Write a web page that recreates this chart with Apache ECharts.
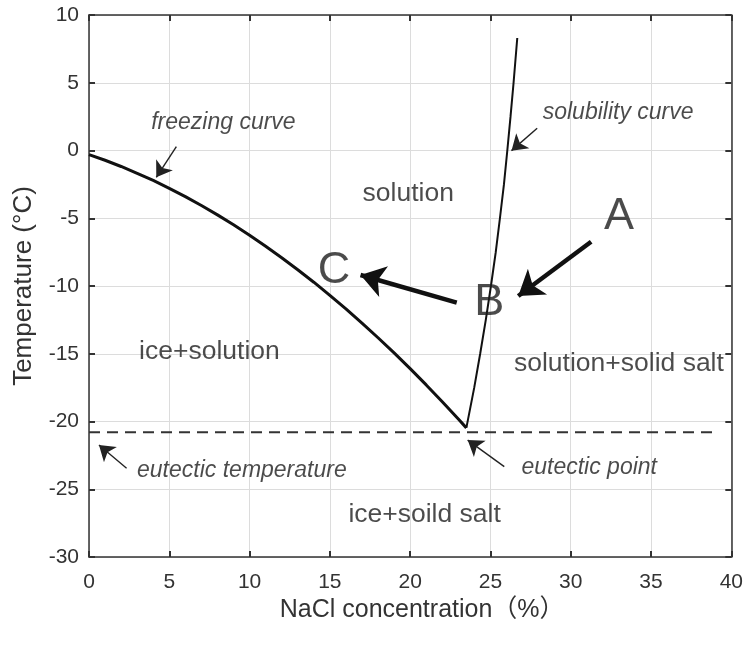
<!DOCTYPE html>
<html>
<head>
<meta charset="utf-8">
<script src="https://cdn.jsdelivr.net/npm/echarts@6/dist/echarts.min.js"></script>
<style>
  html, body { margin: 0; padding: 0; background: #fff; }
  #chart { width: 746px; height: 645px; }
</style>
</head>
<body>
<div id="chart"></div>
<script>
// NaCl–water phase diagram

// Axis ticks
const xTicks = [0, 5, 10, 15, 20, 25, 30, 35, 40];
const yTicks = [-30, -25, -20, -15, -10, -5, 0, 5, 10];

// Freezing curve (ice liquidus): concentration % and temperature °C
const freezingX = [0, 1, 2, 3, 4, 5, 6, 7, 8, 9, 10, 11, 12, 13, 14, 15, 16, 17, 18, 19, 20, 21, 22, 23, 23.5];
const freezingT = [-0.30, -0.72, -1.18, -1.68, -2.21, -2.79, -3.40, -4.06, -4.75, -5.48, -6.25, -7.06, -7.91,
                   -8.80, -9.72, -10.69, -11.69, -12.74, -13.82, -14.94, -16.10, -17.30, -18.54, -19.82, -20.47];

// Solubility curve (salt liquidus)
const solubilityX = [23.5, 23.99, 24.36, 24.71, 25.03, 25.33, 25.59, 25.84, 26.05, 26.25, 26.44, 26.67];
const solubilityT = [-20.47, -17.5, -15, -12.5, -10, -7.5, -5, -2.5, 0, 2.5, 5, 8.3];

// Eutectic temperature line
const eutecticX = [0, 39.2];
const eutecticT = [-20.8, -20.8];

// Thin pointer arrows: [fromX, fromT, toX, toT]
const thinArrows = [
  [5.44, 0.28, 4.19, -1.98],      // freezing curve
  [27.91, 1.64, 26.31, -0.01],    // solubility curve
  [2.34, -23.45, 0.62, -21.73],   // eutectic temperature
  [25.86, -23.33, 23.58, -21.37]  // eutectic point
];

// Thick process arrows A -> B -> C
const thickArrows = [
  [31.27, -6.73, 26.73, -10.74],
  [22.9, -11.23, 16.91, -9.19]
];

// Annotation texts and their anchor points (x %, T °C)
const noteText = ['freezing curve', 'solubility curve', 'eutectic temperature', 'eutectic point'];
const noteX = [8.37, 32.95, 9.52, 31.15];
const noteT = [2.03, 2.77, -23.65, -23.41];

const regionText = ['solution', 'ice+solution', 'solution+solid salt', 'ice+soild salt'];
const regionX = [19.88, 7.5, 33.0, 20.9];
const regionT = [-3.16, -14.87, -15.7, -26.9];

const pointText = ['A', 'B', 'C'];
const pointX = [33.0, 24.93, 15.26];
const pointT = [-4.89, -11.22, -8.89];

const FONT = '"Liberation Sans", Arial, "Noto Sans CJK SC", sans-serif';
const AXIS_COLOR = '#333';

function zip(xs, ys) { return xs.map((x, i) => [x, ys[i]]); }
function textPoints(names, xs, ys) {
  return names.map((n, i) => ({ name: n, value: [xs[i], ys[i]] }));
}
function arrowData(list) {
  return list.map(a => ({ coords: [[a[0], a[1]], [a[2], a[3]]] }));
}
function textSeries(names, xs, ys, style) {
  return {
    type: 'scatter',
    symbolSize: 0,
    silent: true,
    data: textPoints(names, xs, ys),
    label: Object.assign({
      show: true,
      position: 'inside',
      formatter: p => p.name,
      fontFamily: FONT,
      color: '#1e1e1e'
    }, style),
    z: 10
  };
}

const baseX = {
  type: 'value',
  min: xTicks[0],
  max: xTicks[xTicks.length - 1],
  interval: 5,
  axisLine: { show: true, onZero: false, lineStyle: { color: AXIS_COLOR, width: 1.5 } },
  axisTick: { show: true, inside: true, length: 6, lineStyle: { color: AXIS_COLOR, width: 2 } }
};
const baseY = {
  type: 'value',
  min: yTicks[0],
  max: yTicks[yTicks.length - 1],
  interval: 5,
  axisLine: { show: true, onZero: false, lineStyle: { color: AXIS_COLOR, width: 1.5 } },
  axisTick: { show: true, inside: true, length: 6, lineStyle: { color: AXIS_COLOR, width: 2 } }
};

const option = {
  animation: false,
  backgroundColor: '#fff',
  grid: { left: 89, right: 12, top: 15, bottom: 88 },
  xAxis: [
    Object.assign({}, baseX, {
      position: 'bottom',
      name: 'NaCl concentration（%）',
      nameLocation: 'middle',
      nameGap: 36,
      nameTextStyle: { fontFamily: FONT, fontSize: 25, color: '#333', padding: [0, 0, 0, 24] },
      axisLabel: { fontFamily: FONT, fontSize: 21, color: '#333', margin: 15 },
      splitLine: { show: true, lineStyle: { color: '#dcdcdc', width: 1 } }
    }),
    Object.assign({}, baseX, {
      position: 'top',
      axisLabel: { show: false },
      splitLine: { show: false }
    })
  ],
  yAxis: [
    Object.assign({}, baseY, {
      position: 'left',
      name: 'Temperature (°C)',
      nameLocation: 'middle',
      nameGap: 52,
      nameTextStyle: { fontFamily: FONT, fontSize: 26, color: '#333' },
      axisLabel: { fontFamily: FONT, fontSize: 21, color: '#333', margin: 10 },
      splitLine: { show: true, lineStyle: { color: '#dcdcdc', width: 1 } }
    }),
    Object.assign({}, baseY, {
      position: 'right',
      axisLabel: { show: false },
      splitLine: { show: false }
    })
  ],
  series: [
    {
      name: 'freezing curve',
      type: 'line',
      data: zip(freezingX, freezingT),
      symbol: 'none',
      lineStyle: { color: '#111', width: 3 },
      z: 5
    },
    {
      name: 'solubility curve',
      type: 'line',
      data: zip(solubilityX, solubilityT),
      symbol: 'none',
      lineStyle: { color: '#111', width: 2 },
      z: 5
    },
    {
      name: 'eutectic temperature',
      type: 'line',
      data: zip(eutecticX, eutecticT),
      symbol: 'none',
      lineStyle: { color: '#333', width: 2, type: [11, 7] },
      z: 4
    },
    {
      type: 'lines',
      coordinateSystem: 'cartesian2d',
      silent: true,
      symbol: ['none', 'arrow'],
      symbolSize: [1, 15],
      lineStyle: { color: '#222', width: 1.4, opacity: 1 },
      data: arrowData(thinArrows),
      z: 6
    },
    {
      type: 'lines',
      coordinateSystem: 'cartesian2d',
      silent: true,
      symbol: ['none', 'arrow'],
      symbolSize: [1, 24],
      lineStyle: { color: '#111', width: 4.5, opacity: 1 },
      data: arrowData(thickArrows),
      z: 6
    },
    textSeries(noteText, noteX, noteT, { fontSize: 23, fontStyle: 'italic' }),
    textSeries(regionText, regionX, regionT, { fontSize: 26.5 }),
    textSeries(pointText, pointX, pointT, { fontSize: 45 })
  ]
};

const chart = echarts.init(document.getElementById('chart'), null, { renderer: 'canvas' });
chart.setOption(option);
</script>
</body>
</html>
